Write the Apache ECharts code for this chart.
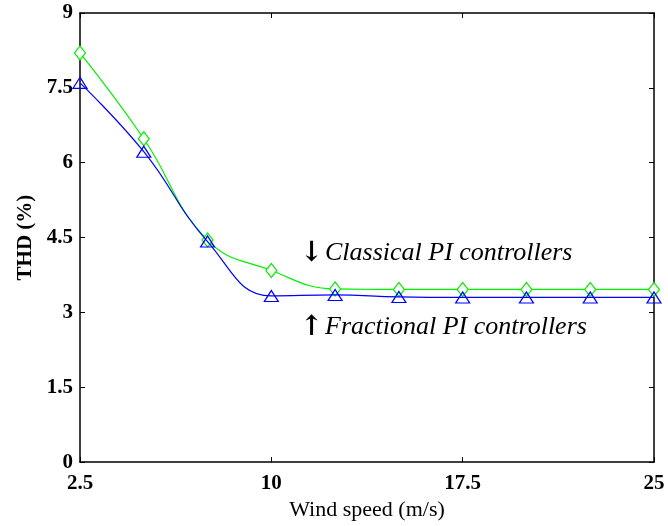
<!DOCTYPE html>
<html>
<head>
<meta charset="utf-8">
<script src="https://cdn.jsdelivr.net/npm/echarts@6/dist/echarts.min.js"></script>
<style>
  html, body { margin: 0; padding: 0; background: #fff; }
  #chart { width: 668px; height: 526px; }
</style>
</head>
<body>
<div id="chart"></div>
<script>
// wind speed (m/s)
const windSpeed = [2.5, 5, 7.5, 10, 12.5, 15, 17.5, 20, 22.5, 25];
// THD (%) for each controller
const classicalPI = [8.2, 6.48, 4.45, 3.84, 3.47, 3.46, 3.46, 3.46, 3.46, 3.46];
const fractionalPI = [7.6, 6.22, 4.42, 3.33, 3.35, 3.31, 3.3, 3.3, 3.3, 3.3];
// tick labels
const xTicks = [2.5, 10, 17.5, 25];
const yTicks = [0, 1.5, 3, 4.5, 6, 7.5, 9];

const serif = '"Liberation Serif", "Times New Roman", serif';

function pairs(xs, ys) {
  return xs.map(function (x, i) { return [x, ys[i]]; });
}

const axisLine = { show: true, onZero: false, lineStyle: { color: '#000', width: 1.5 } };
const tickStyle = { show: true, inside: true, length: 5, lineStyle: { color: '#000', width: 1 } };

const chart = echarts.init(document.getElementById('chart'));
chart.setOption({
  animation: false,
  backgroundColor: '#fff',
  grid: { left: 80, right: 14, top: 13, bottom: 62 },
  xAxis: [{
    type: 'value', min: 2.5, max: 25,
    name: 'Wind speed (m/s)', nameLocation: 'middle', nameGap: 30,
    nameTextStyle: { fontFamily: serif, fontSize: 22, color: '#000' },
    axisLine: axisLine,
    axisTick: Object.assign({ customValues: xTicks }, tickStyle),
    axisLabel: { customValues: xTicks, fontFamily: serif, fontSize: 21, fontWeight: 'bold', color: '#000', margin: 11,
      formatter: function (v) { return String(v); } },
    splitLine: { show: false }
  }, {
    type: 'value', min: 2.5, max: 25, position: 'top',
    axisLine: axisLine,
    axisTick: Object.assign({ customValues: xTicks }, tickStyle),
    axisLabel: { show: false },
    splitLine: { show: false }
  }],
  yAxis: [{
    type: 'value', min: 0, max: 9, interval: 1.5,
    name: 'THD (%)', nameLocation: 'middle', nameGap: 44,
    nameTextStyle: { fontFamily: serif, fontSize: 21, fontWeight: 'bold', color: '#000' },
    axisLine: axisLine,
    axisTick: tickStyle,
    axisLabel: { fontFamily: serif, fontSize: 21, fontWeight: 'bold', color: '#000', margin: 7,
      formatter: function (v) { return String(v); } },
    splitLine: { show: false }
  }, {
    type: 'value', min: 0, max: 9, interval: 1.5, position: 'right',
    axisLine: axisLine,
    axisTick: tickStyle,
    axisLabel: { show: false },
    splitLine: { show: false }
  }],
  series: [{
    name: 'Classical PI controllers',
    type: 'line',
    data: pairs(windSpeed, classicalPI),
    smooth: 0.45,
    symbol: 'diamond', symbolSize: [11, 14],
    lineStyle: { color: '#00ee00', width: 1.2 },
    itemStyle: { color: '#fff', borderColor: '#00ee00', borderWidth: 1.2 },
    z: 2
  }, {
    name: 'Fractional PI controllers',
    type: 'line',
    data: pairs(windSpeed, fractionalPI),
    smooth: 0.45,
    symbol: 'triangle', symbolSize: [14, 11],
    lineStyle: { color: '#0000ff', width: 1.2 },
    itemStyle: { color: 'rgba(255,255,255,0)', borderColor: '#0000ff', borderWidth: 1.2 },
    z: 3
  }],
  graphic: [{
    type: 'text', left: 300, top: 240,
    style: { text: '↓', font: 'bold 28px "DejaVu Serif", serif', fill: '#000' }
  }, {
    type: 'text', left: 325, top: 240,
    style: { text: 'Classical PI controllers', font: 'italic 26px ' + serif, fill: '#000' }
  }, {
    type: 'text', left: 300, top: 314,
    style: { text: '↑', font: 'bold 28px "DejaVu Serif", serif', fill: '#000' }
  }, {
    type: 'text', left: 325, top: 314,
    style: { text: 'Fractional PI controllers', font: 'italic 26px ' + serif, fill: '#000' }
  }]
});
</script>
</body>
</html>
